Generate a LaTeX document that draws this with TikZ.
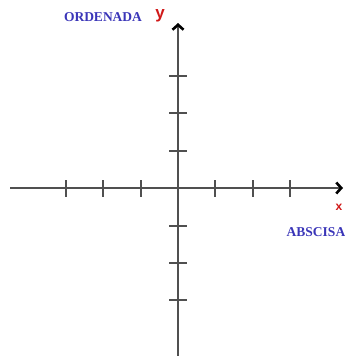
\documentclass[tikz,border=0pt]{standalone}
\usepackage{fontspec}
\setmainfont{Liberation Serif}
\newfontfamily\lsans{Liberation Sans}
\usetikzlibrary{arrows.meta}
\definecolor{axisgray}{HTML}{505050}
\definecolor{lblue}{HTML}{3A35B8}
\definecolor{lred}{HTML}{D01818}
\tikzset{
  axisline/.style={draw=axisgray, line width=1.3pt},
  tickmark/.style={draw=axisgray, line width=1.1pt},
  tipstyle/.style={-{Straight Barb[length=5pt,width=11pt,line width=2.6pt,color=black]}},
  bluelbl/.style={text=lblue, font=\fontsize{13.5}{15}\selectfont\bfseries, inner sep=0pt},
  redlbl/.style={text=lred, font=\lsans\fontsize{17}{18}\selectfont\bfseries, inner sep=0pt}
}
\begin{document}
\begin{tikzpicture}[x=1pt,y=-1pt]
\useasboundingbox (0,0) rectangle (345,356);
\clip (0,0) rectangle (345,356);
\coordinate (xl) at (10,188);
\coordinate (xr) at (343,188);
\coordinate (yb) at (178,356);
\coordinate (yt) at (178,23);
\draw[axisline, tipstyle] (xl) -- (xr);
\draw[axisline, tipstyle] (yb) -- (yt);
\foreach \x in {66,103,141,215,253,290} \draw[tickmark] (\x,180) -- (\x,197);
\foreach \y in {76,113,151,226,263,300} \draw[tickmark] (169,\y) -- (187,\y);
\node[bluelbl] (ord) at (103,17) {ORDENADA};
\node[redlbl] (ylbl) at (160,16) {y};
\node[bluelbl] (abs) at (316,232) {ABSCISA};
\node[redlbl, font=\lsans\fontsize{12}{13}\selectfont\bfseries] (xlbl) at (339,207) {x};
\end{tikzpicture}
\end{document}
